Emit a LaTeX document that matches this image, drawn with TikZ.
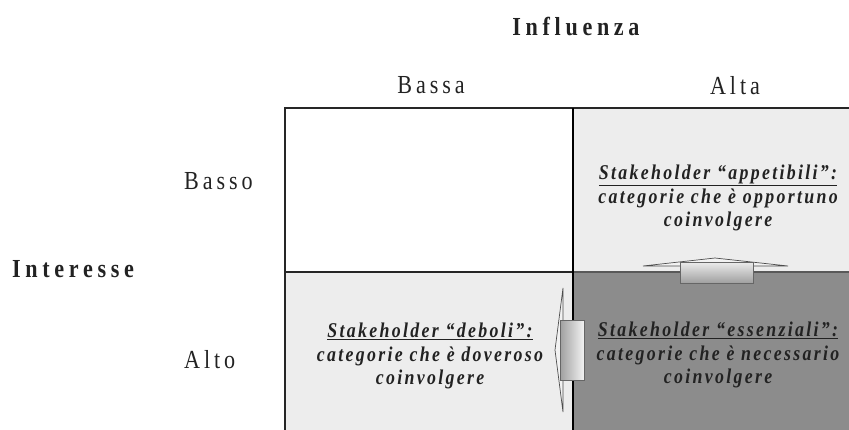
\documentclass[tikz,border=0pt]{standalone}
\usepackage{fontspec}
\setmainfont{Liberation Serif}
\newfontfamily\hdrfont[LetterSpace=15,FakeStretch=0.85]{Liberation Serif}
\newfontfamily\hdrboldfont[LetterSpace=18,FakeStretch=0.85]{Liberation Serif}
\newfontfamily\cellfont[LetterSpace=11,FakeStretch=0.85]{Liberation Serif}
\definecolor{cellLight}{HTML}{EDEDED}
\definecolor{cellDark}{HTML}{8C8C8C}
\definecolor{inkc}{HTML}{222222}
\tikzset{
  hdr/.style={inner sep=0pt, text=inkc, font=\hdrfont\fontsize{26}{28}\selectfont},
  hdrbold/.style={inner sep=0pt, text=inkc, font=\hdrboldfont\bfseries\fontsize{26}{28}\selectfont},
  celltext/.style={inner sep=0pt, align=center, text=inkc,
    font=\cellfont\bfseries\itshape\fontsize{21}{23.5}\selectfont},
  headshape/.style={fill=cellLight!70!white, draw=black!70, line width=0.7pt},
}
\begin{document}
\begin{tikzpicture}[x=1pt,y=-1pt]
\useasboundingbox (0,0) rectangle (849,429);
\clip (0,0) rectangle (849,429);
% cells
\fill[white] (285,108) rectangle (573,272);
\fill[cellLight] (573,108) rectangle (870,272);
\fill[cellLight] (285,272) rectangle (573,440);
\fill[cellDark] (573,272) rectangle (870,440);
% grid lines
\draw[line width=1.6pt, black!85] (285,440) -- (285,108) -- (870,108);
\draw[line width=2pt, black!85] (285,272) -- (573,272);
\draw[line width=1.4pt, black!65] (573,272) -- (870,272);
\draw[line width=2.6pt, black] (573,108) -- (573,440);
% up arrow (essenziali -> appetibili)
\filldraw[headshape] (643,266) -- (715,258) -- (788,266) -- cycle;
\shade[top color=gray!15, bottom color=gray!75, draw=black!60, line width=0.7pt]
  (680,262) rectangle (753,283);
% left arrow (essenziali -> deboli)
\filldraw[headshape] (563,288) -- (555,350) -- (563,412) -- cycle;
\shade[left color=gray!75, right color=gray!10, draw=black!60, line width=0.7pt]
  (560,320) rectangle (584,380);
% headers
\node[hdrbold] (influenza) at (576,27) {Influenza};
\node[hdr] (bassa) at (431,85) {Bassa};
\node[hdr] (alta) at (735,86) {Alta};
\node[hdr, anchor=west] (basso) at (184,181) {Basso};
\node[hdr, anchor=west] (alto) at (184,360) {Alto};
\node[hdrbold, anchor=west] (interesse) at (12,269) {Interesse};
% cell texts
\node[celltext] (appetibili) at (718,198) {\underline{Stakeholder “appetibili”:}\\categorie che è opportuno\\coinvolgere};
\node[celltext] (deboli) at (430,356) {\underline{Stakeholder “deboli”:}\\categorie che è doveroso\\coinvolgere};
\node[celltext] (essenziali) at (718,355) {\underline{Stakeholder “essenziali”:}\\categorie che è necessario\\coinvolgere};
\end{tikzpicture}
\end{document}
